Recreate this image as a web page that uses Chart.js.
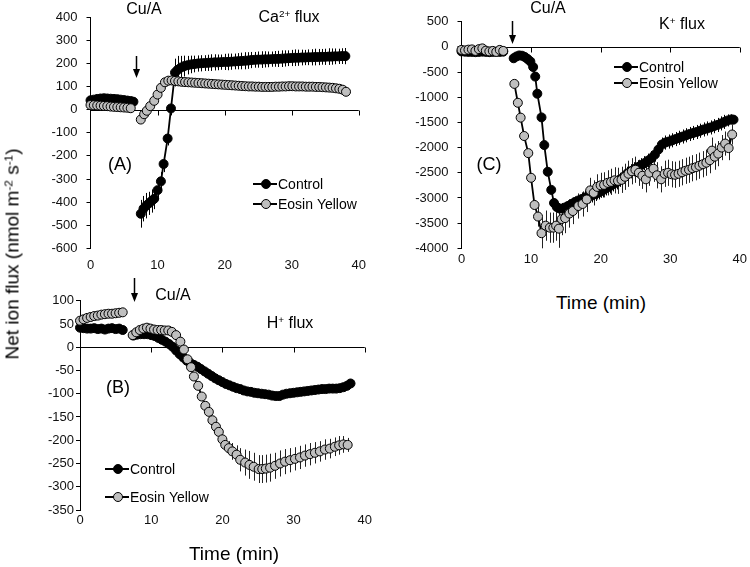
<!DOCTYPE html>
<html>
<head>
<meta charset="utf-8">
<script src="https://cdn.jsdelivr.net/npm/chart.js@4.4.0/dist/chart.umd.min.js"></script>
<style>
  body { margin: 0; background: #fff; }
  #wrap { position: relative; width: 750px; height: 567px; overflow: hidden;
          font-family: 'Liberation Sans', Arial, sans-serif; color: #000; }
  canvas { position: absolute; }
  .t { position: absolute; transform: translate(-50%, -50%); white-space: nowrap; line-height: 1; }
  .t sup, .ytitle sup { font-size: 0.62em; vertical-align: 0.55em; line-height: 0; }
  .ytitle { position: absolute; transform: translate(-50%, -50%) rotate(-90deg); white-space: nowrap;
            font-family: 'Liberation Sans', Arial, sans-serif; font-size: 19px; line-height: 1; }
</style>
</head>
<body>
<div id="wrap">
  <canvas id="chartA" width="375" height="275" style="left:0;top:0"></canvas>
  <canvas id="chartB" width="375" height="297" style="left:0;top:270px"></canvas>
  <canvas id="chartC" width="370" height="275" style="left:380px;top:0"></canvas>

  <div class="ytitle" style="left:12px;top:254px">Net ion flux (nmol m<sup>-2</sup> s<sup>-1</sup>)</div>

  <div class="t" style="left:144px;top:9px;font-size:16px">Cu/A</div>
  <div class="t" style="left:289px;top:17px;font-size:16px">Ca<sup>2+</sup> flux</div>
  <div class="t" style="left:120px;top:164px;font-size:18px">(A)</div>

  <div class="t" style="left:173px;top:295px;font-size:16px">Cu/A</div>
  <div class="t" style="left:290px;top:323px;font-size:16px">H<sup>+</sup> flux</div>
  <div class="t" style="left:118px;top:387px;font-size:18px">(B)</div>
  <div class="t" style="left:234px;top:553px;font-size:19px">Time (min)</div>

  <div class="t" style="left:548px;top:8px;font-size:16px">Cu/A</div>
  <div class="t" style="left:682px;top:24px;font-size:16px">K<sup>+</sup> flux</div>
  <div class="t" style="left:489px;top:164px;font-size:18px">(C)</div>
  <div class="t" style="left:601px;top:302px;font-size:19px">Time (min)</div>
</div>
<script>
const FONT = "'Liberation Sans', Arial, sans-serif";

// ---- Panel A: Ca2+ flux ----
const aCtrlPreT = [0, 0.5, 1, 1.5, 2, 2.5, 3, 3.5, 4, 4.5, 5, 5.5, 6, 6.4];
const aCtrlPreY = [40, 43, 46, 48, 49, 48, 47, 46, 45, 43, 41, 39, 37, 34];
const aCtrlPostT = [7.5, 7.9, 8.3, 8.7, 9.1, 9.5, 10.0, 10.5, 10.9, 11.5, 12.0, 12.6, 13.0, 13.5,
    14, 14.5, 15, 15.5, 16, 16.5, 17, 17.5, 18, 18.5, 19, 19.5, 20, 20.5, 21, 21.5, 22, 22.5, 23, 23.5,
    24, 24.5, 25, 25.5, 26, 26.5, 27, 27.5, 28, 28.5, 29, 29.5, 30, 30.5, 31, 31.5, 32, 32.5, 33, 33.5,
    34, 34.5, 35, 35.5, 36, 36.5, 37, 37.5, 38];
const aCtrlPostY = [-450, -428, -415, -405, -395, -385, -348, -310, -235, -125, 5, 160, 172, 182,
    188, 192, 195, 197, 199, 200, 201, 202, 203, 204, 204, 205, 206, 206, 207, 208, 209, 210, 211, 212,
    214, 215, 216, 216, 217, 217, 218, 219, 219, 220, 221, 222, 223, 224, 224, 225, 225, 226, 226, 227,
    227, 228, 228, 229, 229, 230, 230, 231, 231];
const aCtrlPostE = [60, 55, 55, 50, 50, 45, 40, 40, 35, 30, 30, 60, 60, 50,
    45, 40, 38, 36, 35, 35, 34, 35, 36, 35, 34, 33, 35, 36, 35, 34, 35, 36, 37, 36,
    35, 34, 35, 36, 35, 34, 33, 34, 35, 36, 35, 34, 35, 36, 35, 34, 33, 34, 35, 36,
    35, 34, 35, 36, 35, 34, 33, 34, 35];
const aEosPreT = [0, 0.5, 1, 1.5, 2, 2.5, 3, 3.5, 4, 4.5, 5, 5.5, 6];
const aEosPreY = [20, 19, 18, 17, 16, 15, 13, 12, 11, 10, 9, 8, 6];
const aEosPostT = [7.5, 8.0, 8.4, 8.9, 9.5, 10.0, 10.5, 11.1, 11.6, 12.1,
    12.6, 13.1, 13.6, 14.1, 14.6, 15.1, 15.6, 16.1, 16.6, 17.1, 17.6, 18.1, 18.6, 19.1, 19.6,
    20.1, 20.6, 21.1, 21.6, 22.1, 22.6, 23.1, 23.6, 24.1, 24.6, 25.1, 25.6, 26.1, 26.6, 27.1,
    27.6, 28.1, 28.6, 29.1, 29.6, 30.1, 30.6, 31.1, 31.6, 32.1, 32.6, 33.1, 33.6, 34.1, 34.6,
    35.1, 35.6, 36.1, 36.6, 37.1, 37.6, 38.1];
const aEosPostY = [-43, -20, -5, 15, 38, 65, 94, 118, 125, 126,
    124, 122, 120, 119, 118, 117, 116, 115, 114, 113, 112, 111, 110, 109, 108,
    107, 106, 105, 104, 103, 102, 101, 100, 100, 99, 99, 98, 98, 98, 98,
    99, 99, 100, 100, 101, 101, 100, 100, 100, 99, 99, 99, 98, 98, 97,
    96, 95, 94, 92, 90, 86, 77];
const aEosPostE = [12, 12, 12, 12, 12, 12, 12, 12, 12, 10,
    10, 10, 10, 10, 9, 9, 9, 9, 9, 9, 9, 9, 9, 9, 9,
    9, 9, 9, 9, 9, 9, 9, 9, 9, 9, 9, 9, 9, 9, 9,
    9, 9, 9, 9, 9, 9, 9, 9, 9, 9, 9, 9, 9, 9, 9,
    9, 9, 9, 9, 10, 10, 10];

// ---- Panel B: H+ flux ----
const bCtrlPreT = [0, 0.5, 1, 1.5, 2, 2.5, 3, 3.5, 4, 4.5, 5, 5.5, 6];
const bCtrlPreY = [42, 41, 40, 40, 41, 39, 40, 38, 40, 41, 39, 40, 37];
const bCtrlPostT = [7.5, 8, 8.5, 9, 9.5, 10, 10.5, 11, 11.5, 12, 12.5, 13, 13.5, 14, 14.5, 15, 15.5, 16,
    16.5, 17, 17.5, 18, 18.5, 19, 19.5, 20, 20.5, 21, 21.5, 22, 22.5, 23, 23.5, 24, 24.5, 25, 25.5,
    26, 26.5, 27, 27.5, 28, 28.5, 29, 29.5, 30, 30.5, 31, 31.5, 32, 32.5, 33, 33.5, 34, 34.5, 35,
    35.5, 36, 36.5, 37, 37.5, 38];
const bCtrlPostY = [25, 27, 28, 28, 28, 26, 24, 20, 16, 12, 7, 1, -7, -15, -22, -29, -34, -38,
    -42, -47, -52, -57, -62, -67, -71, -75, -79, -82, -85, -88, -90, -93, -95, -96, -98, -99, -100,
    -101, -102, -104, -105, -105, -102, -100, -99, -98, -97, -96, -95, -94, -93, -92, -91, -90, -90, -89,
    -89, -89, -88, -86, -83, -78];
const bCtrlPostE = [6, 6, 6, 6, 6, 6, 6, 6, 6, 6, 6, 6, 6, 6, 6, 6, 6, 6,
    6, 6, 6, 6, 6, 6, 6, 6, 6, 6, 6, 6, 6, 6, 6, 6, 6, 7, 7,
    7, 7, 7, 7, 7, 7, 7, 6, 6, 6, 6, 6, 6, 6, 6, 6, 6, 6, 6,
    6, 6, 6, 6, 6, 6];
const bEosPreT = [0, 0.5, 1, 1.5, 2, 2.5, 3, 3.5, 4, 4.5, 5, 5.5, 6];
const bEosPreY = [57, 60, 63, 65, 67, 68, 70, 71, 72, 72, 73, 74, 75];
const bEosPostT = [7.4, 7.9, 8.4, 8.9, 9.4, 9.9, 10.4, 10.9, 11.4, 11.9,
    12.4, 12.9, 13.5, 14.1, 14.6, 15.1, 15.6, 16.0, 16.6, 17.1,
    17.6, 18.1, 18.6, 19.1, 19.5, 20.0, 20.4, 20.9, 21.4, 22.0,
    22.5, 23.2, 23.8, 24.4, 25.1, 25.6, 26.1, 26.7, 27.4, 28.1,
    28.8, 29.5, 30.2, 30.9, 31.6, 32.3, 33.0, 33.7, 34.4, 35.1,
    35.8, 36.4, 37.0, 37.6];
const bEosPostY = [26, 32, 37, 40, 42, 40, 38, 37, 37, 36,
    36, 33, 26, 12, -5, -26, -43, -63, -83, -106,
    -126, -139, -157, -171, -182, -198, -210, -217, -224, -231,
    -242, -248, -253, -257, -262, -262, -261, -259, -255, -250,
    -246, -243, -240, -237, -233, -230, -227, -224, -220, -218,
    -214, -211, -209, -210];
const bEosPostE = [5, 5, 5, 5, 5, 5, 5, 5, 5, 5,
    5, 5, 5, 5, 5, 5, 5, 5, 6, 6,
    6, 7, 8, 8, 10, 10, 12, 15, 18, 20,
    25, 28, 30, 30, 30, 30, 30, 30, 28, 28,
    27, 26, 25, 25, 24, 24, 23, 22, 22, 21,
    20, 20, 18, 15];

// ---- Panel C: K+ flux ----
const cCtrlPreT = [0, 0.5, 1, 1.5, 2, 2.5, 3, 3.5, 4, 4.5, 5, 5.5, 6];
const cCtrlPreY = [-90, -95, -100, -100, -105, -100, -95, -100, -105, -100, -95, -100, -95];
const cCtrlPostT = [7.5, 7.9, 8.3, 8.7, 9.1, 9.5, 9.9, 10.3, 10.6, 10.9,
    11.5, 11.9, 12.4, 12.9, 13.3, 13.7, 14.1, 14.5, 14.9, 15.3,
    15.8, 16.3, 16.8, 17.3, 17.8, 18.3, 18.8, 19.3, 19.8, 20.3,
    20.8, 21.3, 21.8, 22.3, 22.8, 23.3, 23.8, 24.3, 24.8, 25.3,
    25.8, 26.3, 26.8, 27.3, 27.8, 28.3, 28.8, 29.3, 29.8, 30.3,
    30.8, 31.3, 31.8, 32.3, 32.8, 33.3, 33.8, 34.3, 34.8, 35.3,
    35.8, 36.3, 36.8, 37.3, 37.8, 38.3, 38.8, 39.1];
const cCtrlPostY = [-226, -190, -170, -175, -200, -240, -290, -400, -590, -930,
    -1400, -1950, -2480, -2840, -3100, -3180, -3210, -3210, -3190, -3160,
    -3120, -3080, -3050, -3020, -2990, -2970, -2950, -2920, -2890, -2850,
    -2810, -2770, -2730, -2690, -2640, -2580, -2520, -2470, -2430, -2390,
    -2350, -2310, -2260, -2210, -2140, -2040, -1940, -1900, -1880, -1855,
    -1830, -1805, -1780, -1755, -1730, -1710, -1690, -1665, -1640, -1620,
    -1600, -1575, -1550, -1520, -1490, -1460, -1440, -1445];
const cCtrlPostE = [30, 30, 30, 30, 30, 30, 30, 40, 50, 60,
    60, 80, 80, 80, 80, 80, 80, 80, 80, 90,
    100, 110, 120, 130, 140, 140, 140, 140, 140, 140,
    140, 140, 140, 140, 140, 140, 140, 140, 140, 140,
    140, 140, 140, 140, 140, 140, 140, 140, 140, 140,
    140, 140, 140, 140, 140, 140, 140, 140, 140, 140,
    140, 140, 140, 140, 140, 120, 100, 80];
const cEosPreT = [0, 0.5, 1, 1.5, 2, 2.5, 3, 3.5, 4, 4.5, 5, 5.5, 6];
const cEosPreY = [-60, -70, -55, -50, -80, -45, -30, -75, -90, -80, -100, -60, -80];
const cEosPostT = [7.6, 8.1, 8.5, 9.0, 9.6, 10.0, 10.5, 11.0, 11.5, 12.1,
    12.7, 13.2, 13.6, 14.0, 14.4, 14.9, 15.5, 16.0, 16.8, 17.4,
    18.0, 18.5, 19.0, 19.5, 20.0, 20.5, 21.0, 21.5, 22.0, 22.5,
    23.0, 23.5, 24.0, 24.5, 25.0, 25.5, 26.0, 26.5, 27.0, 27.6,
    28.1, 28.7, 29.2, 29.7, 30.2, 30.7, 31.2, 31.7, 32.2, 32.7,
    33.2, 33.7, 34.2, 34.7, 35.2, 35.7, 36.0, 36.4, 36.9, 37.4,
    37.9, 38.4, 38.9];
const cEosPostY = [-735, -1110, -1405, -1770, -2110, -2600, -3140, -3370, -3700, -3550,
    -3590, -3590, -3550, -3610, -3420, -3400, -3310, -3260, -3160, -3120,
    -3030, -2850, -2900, -2780, -2750, -2740, -2700, -2680, -2650, -2660,
    -2640, -2580, -2520, -2470, -2440, -2500, -2560, -2630, -2500, -2420,
    -2550, -2630, -2520, -2500, -2530, -2540, -2520, -2490, -2460, -2440,
    -2410, -2390, -2360, -2330, -2300, -2250, -2060, -2180, -2120, -2000,
    -1920, -2010, -1740];
const cEosPostE = [50, 60, 60, 60, 80, 80, 100, 200, 300, 300,
    300, 300, 300, 380, 320, 300, 280, 260, 250, 250,
    250, 250, 250, 250, 250, 250, 250, 260, 260, 260,
    260, 260, 260, 260, 260, 260, 260, 260, 260, 260,
    260, 260, 260, 260, 260, 260, 260, 260, 260, 260,
    260, 260, 260, 260, 260, 260, 260, 260, 250, 250,
    240, 240, 200];

function toPoints(t, y, e) {
    return t.map((x, i) => ({ x: x, y: y[i], e: e ? e[i] : 0 }));
}

// pre-treatment and post-treatment runs, broken where Cu/A is added
function joinRuns(preT, preY, postT, postY, postE, gapAt) {
    return toPoints(preT, preY).concat([{ x: gapAt, y: null }], toPoints(postT, postY, postE));
}

function makeDatasets(ctrlData, eosData) {
    const common = {
        borderColor: '#000', borderWidth: 1.8, pointRadius: 4.5, pointBorderWidth: 1,
        pointBorderColor: '#000', tension: 0, clip: false, spanGaps: false
    };
    return [
        Object.assign({ label: 'Control', data: ctrlData, pointBackgroundColor: '#000', errColor: '#000', order: 1 }, common),
        Object.assign({ label: 'Eosin Yellow', data: eosData, pointBackgroundColor: '#bfbfbf', errColor: '#222', order: 0 }, common)
    ];
}

// horizontal axis line at y = 0 with downward tick marks
const zeroLine = {
    id: 'zeroLine',
    beforeDatasetsDraw(chart) {
        const { ctx, chartArea, scales: { x, y } } = chart;
        const py = Math.round(y.getPixelForValue(0)) + 0.5;
        ctx.save();
        ctx.strokeStyle = '#000';
        ctx.lineWidth = 1;
        ctx.beginPath();
        ctx.moveTo(chartArea.left, py);
        ctx.lineTo(chartArea.right, py);
        x.ticks.forEach(t => {
            if (t.value === 0) return;
            const px = Math.round(x.getPixelForValue(t.value)) + 0.5;
            ctx.moveTo(px, py);
            ctx.lineTo(px, py + 5);
        });
        ctx.stroke();
        ctx.restore();
    }
};

const errorBars = {
    id: 'errorBars',
    beforeDatasetsDraw(chart) {
        const { ctx, scales: { x, y } } = chart;
        ctx.save();
        ctx.lineWidth = 1;
        chart.data.datasets.forEach(ds => {
            ctx.strokeStyle = ds.errColor;
            ctx.beginPath();
            ds.data.forEach(pt => {
                if (pt.y === null || !pt.e) return;
                const px = Math.round(x.getPixelForValue(pt.x)) + 0.5;
                ctx.moveTo(px, y.getPixelForValue(pt.y + pt.e));
                ctx.lineTo(px, y.getPixelForValue(pt.y - pt.e));
            });
            ctx.stroke();
        });
        ctx.restore();
    }
};

const insetLegend = {
    id: 'insetLegend',
    afterDraw(chart, args, opts) {
        const ctx = chart.ctx;
        ctx.save();
        ctx.font = '14px ' + FONT;
        ctx.textBaseline = 'middle';
        chart.data.datasets.forEach((ds, i) => {
            const y = opts.y + i * opts.gap;
            ctx.strokeStyle = '#000';
            ctx.lineWidth = 2;
            ctx.beginPath();
            ctx.moveTo(opts.x, y);
            ctx.lineTo(opts.x + 24, y);
            ctx.stroke();
            ctx.beginPath();
            ctx.arc(opts.x + 13, y, 4.5, 0, Math.PI * 2);
            ctx.fillStyle = ds.pointBackgroundColor;
            ctx.fill();
            ctx.lineWidth = 1;
            ctx.stroke();
            ctx.fillStyle = '#000';
            ctx.fillText(ds.label, opts.x + 25, y + 1);
        });
        ctx.restore();
    }
};

// downward arrow marking the Cu/A addition
const arrowMark = {
    id: 'arrowMark',
    afterDraw(chart, args, opts) {
        const ctx = chart.ctx;
        const px = Math.round(chart.scales.x.getPixelForValue(opts.at)) + 0.5;
        ctx.save();
        ctx.strokeStyle = '#000';
        ctx.fillStyle = '#000';
        ctx.lineWidth = 1.5;
        ctx.beginPath();
        ctx.moveTo(px, opts.top);
        ctx.lineTo(px, opts.bottom - 6);
        ctx.stroke();
        ctx.beginPath();
        ctx.moveTo(px - 3.5, opts.bottom - 9);
        ctx.lineTo(px + 3.5, opts.bottom - 9);
        ctx.lineTo(px, opts.bottom);
        ctx.closePath();
        ctx.fill();
        ctx.restore();
    }
};

function makeOptions(cfg) {
    return {
        responsive: false,
        animation: false,
        events: [],
        layout: { autoPadding: false, padding: cfg.padding },
        plugins: {
            legend: { display: false },
            tooltip: { enabled: false },
            insetLegend: cfg.legend,
            arrowMark: cfg.arrow
        },
        scales: {
            x: {
                type: 'linear', min: 0, max: 40,
                ticks: { stepSize: 10, padding: cfg.xPad, color: '#111', font: { family: FONT, size: 13 } },
                grid: { display: false, drawTicks: false },
                border: { display: false },
                afterFit: s => { s.height = 25; }
            },
            y: {
                type: 'linear', min: cfg.yMin, max: cfg.yMax,
                ticks: {
                    stepSize: cfg.yStep, padding: cfg.yPad, color: '#111',
                    font: { family: FONT, size: 13 },
                    callback: v => String(v)
                },
                grid: { drawOnChartArea: false, drawTicks: true, tickLength: 4, color: '#000' },
                border: { display: true, color: '#000', width: 1 },
                afterFit: s => { s.width = cfg.yWidth; }
            }
        }
    };
}

const PLUGINS = [zeroLine, errorBars, insetLegend, arrowMark];

new Chart(document.getElementById('chartA'), {
    type: 'line',
    data: {
        datasets: makeDatasets(
            joinRuns(aCtrlPreT, aCtrlPreY, aCtrlPostT, aCtrlPostY, aCtrlPostE, 7),
            joinRuns(aEosPreT, aEosPreY, aEosPostT, aEosPostY, aEosPostE, 7))
    },
    options: makeOptions({
        yMin: -600, yMax: 400, yStep: 100, yWidth: 60, yPad: 9, xPad: 9,
        padding: { left: 30.5, right: 10, top: 17, bottom: 1.5 },
        legend: { x: 253, y: 184, gap: 20 },
        arrow: { at: 6.73, top: 56, bottom: 78 }
    }),
    plugins: PLUGINS
});

new Chart(document.getElementById('chartB'), {
    type: 'line',
    data: {
        datasets: makeDatasets(
            joinRuns(bCtrlPreT, bCtrlPreY, bCtrlPostT, bCtrlPostY, bCtrlPostE, 7),
            joinRuns(bEosPreT, bEosPreY, bEosPostT, bEosPostY, bEosPostE, 7))
    },
    options: makeOptions({
        yMin: -350, yMax: 100, yStep: 50, yWidth: 55, yPad: 2, xPad: 3,
        padding: { left: 25, right: 7.5, top: 30.7, bottom: 32 },
        legend: { x: 105, y: 199, gap: 28 },
        arrow: { at: 7.65, top: 8, bottom: 32 }
    }),
    plugins: PLUGINS
});

new Chart(document.getElementById('chartC'), {
    type: 'line',
    data: {
        datasets: makeDatasets(
            joinRuns(cCtrlPreT, cCtrlPreY, cCtrlPostT, cCtrlPostY, cCtrlPostE, 7),
            joinRuns(cEosPreT, cEosPreY, cEosPostT, cEosPostY, cEosPostE, 7))
    },
    options: makeOptions({
        yMin: -4000, yMax: 500, yStep: 500, yWidth: 60, yPad: 9, xPad: 3,
        padding: { left: 21.5, right: 7, top: 21.7, bottom: 1.7 },
        legend: { x: 234, y: 67, gap: 16 },
        arrow: { at: 7.27, top: 21, bottom: 44 }
    }),
    plugins: PLUGINS
});
</script>
</body>
</html>
